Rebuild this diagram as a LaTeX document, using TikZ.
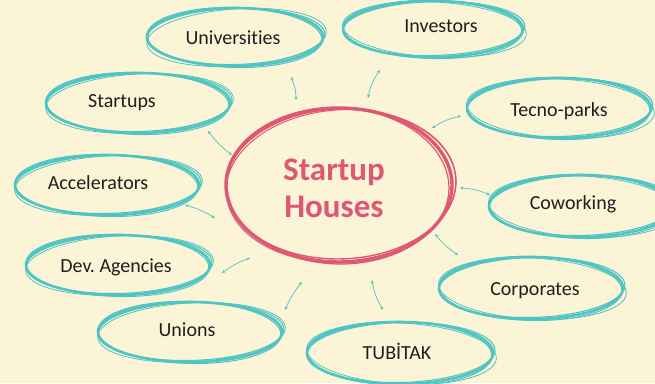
\documentclass[tikz,border=0pt]{standalone}
\usepackage{fontspec}
\setmainfont{Carlito}[Ligatures=NoCommon]
\frenchspacing
\usetikzlibrary{arrows.meta,calc,shapes.geometric}
\definecolor{bg}{HTML}{FCF4D6}
\definecolor{tealc}{HTML}{4EC4C3}
\definecolor{pinkc}{HTML}{DC5873}
\definecolor{txt}{HTML}{1E1E1E}
\newcommand\skell[5]{%
  \draw[#1,line width=2.6pt] (#2) ellipse [x radius=#3,y radius=#4];
  \draw[#1,line width=1.1pt,rotate around={1.5:(#2)}] ($(#2)+(1,0.5)$) ellipse [x radius=#3+1,y radius=#4-1];
  \draw[#1,line width=1pt,rotate around={-1.5:(#2)}] ($(#2)+(-0.5,-0.5)$) ellipse [x radius=#3-0.5,y radius=#4+1];
  \draw[#1,line width=0.8pt,rotate around={#5:(#2)}] ($(#2)+(1.5,-0.5)$) ellipse [x radius=#3+2,y radius=#4-0.5];
}
\tikzset{
  shp/.style={ellipse,draw=none,inner sep=0pt},
  lbl/.style={font=\fontsize{20}{22}\selectfont,text=txt,inner sep=0pt},
  conn/.style={tealc,line width=0.7pt,{Stealth[length=3.5pt,width=3pt]}-{Stealth[length=3.5pt,width=3pt]}}
}
\begin{document}
\begin{tikzpicture}[x=1pt,y=1pt]
\fill[bg] (0,0) rectangle (655,-383);
\useasboundingbox (0,0) rectangle (655,-383);

% centre
\node[shp,minimum width=228pt,minimum height=156pt] (hub) at (339,-185) {};
\draw[pinkc,line width=3.4pt] (hub.center) ellipse [x radius=113,y radius=77];
\draw[pinkc,line width=1.4pt,rotate around={2:(hub.center)}] ($(hub.center)+(2,1)$) ellipse [x radius=115,y radius=75];
\draw[pinkc,line width=1.2pt,rotate around={-2:(hub.center)}] ($(hub.center)+(-1,-1)$) ellipse [x radius=111,y radius=78];
\draw[pinkc,line width=1pt,rotate around={4:(hub.center)}] ($(hub.center)+(2,-1)$) ellipse [x radius=115,y radius=76];
\node[font=\bfseries\fontsize{33}{38}\selectfont,text=pinkc,align=center,inner sep=0pt] (hubt) at (334,-188) {Startup\\[-1pt]Houses};

% satellites
\node[shp,minimum width=176pt,minimum height=58pt] (uni) at (235,-37) {};
\node[shp,minimum width=180pt,minimum height=56pt] (inv) at (433,-29) {};
\node[shp,minimum width=184pt,minimum height=60pt] (stu) at (138,-103) {};
\node[shp,minimum width=184pt,minimum height=60pt] (tec) at (559,-108) {};
\node[shp,minimum width=184pt,minimum height=60pt] (acc) at (107,-185) {};
\node[shp,minimum width=184pt,minimum height=62pt] (cow) at (581,-206) {};
\node[shp,minimum width=184pt,minimum height=60pt] (dev) at (118,-265) {};
\node[shp,minimum width=184pt,minimum height=62pt] (cor) at (531,-288) {};
\node[shp,minimum width=184pt,minimum height=60pt] (uni2) at (190,-332) {};
\node[shp,minimum width=186pt,minimum height=62pt] (tub) at (400,-353) {};

\skell{tealc}{uni.center}{88}{29}{4}
\skell{tealc}{inv.center}{90}{28}{-3}
\skell{tealc}{stu.center}{92}{30}{3}
\skell{tealc}{tec.center}{92}{30}{-3}
\skell{tealc}{acc.center}{92}{30}{3}
\skell{tealc}{cow.center}{92}{31}{-3}
\skell{tealc}{dev.center}{92}{30}{3}
\skell{tealc}{cor.center}{92}{31}{-3}
\skell{tealc}{uni2.center}{92}{30}{3}
\skell{tealc}{tub.center}{93}{31}{-3}

\node[lbl] (unit) at (233,-38) {Universities};
\node[lbl] (invt) at (441,-26) {Investors};
\node[lbl] (stut) at (122,-103) {Startups};
\node[lbl] (tect) at (559,-111) {Tecno-parks};
\node[lbl] (acct) at (98,-183) {Accelerators};
\node[lbl] (cowt) at (573,-204) {Coworking};
\node[lbl] (devt) at (116,-267) {Dev. Agencies};
\node[lbl] (cort) at (535,-291) {Corporates};
\node[lbl] (uni2t) at (187,-330) {Unions};
\node[lbl] (tubt) at (397,-351) {TUBİTAK};

% connector end points
\coordinate (a1) at (291,-77);  \coordinate (b1) at (296,-100);
\coordinate (a2) at (380,-70);  \coordinate (b2) at (368,-98);
\coordinate (a3) at (208,-131); \coordinate (b3) at (232,-155);
\coordinate (a4) at (461,-116); \coordinate (b4) at (432,-128);
\coordinate (a5) at (185,-205); \coordinate (b5) at (215,-218);
\coordinate (a6) at (490,-195); \coordinate (b6) at (460,-188);
\coordinate (a7) at (458,-255); \coordinate (b7) at (435,-234);
\coordinate (a8) at (222,-273); \coordinate (b8) at (250,-258);
\coordinate (a9) at (285,-310); \coordinate (b9) at (302,-282);
\coordinate (a10) at (383,-310); \coordinate (b10) at (372,-280);

\draw[conn] (a1) to[bend left=12] (b1);
\draw[conn] (a2) to[bend right=12] (b2);
\draw[conn] (a3) to[bend right=8] (b3);
\draw[conn] (a4) to[bend right=10] (b4);
\draw[conn] (a5) to[bend left=8] (b5);
\draw[conn] (a6) to[bend right=10] (b6);
\draw[conn] (a7) to[bend left=8] (b7);
\draw[conn] (a8) to[bend left=8] (b8);
\draw[conn] (a9) to[bend left=8] (b9);
\draw[conn] (a10) to[bend left=10] (b10);
\end{tikzpicture}
\end{document}
